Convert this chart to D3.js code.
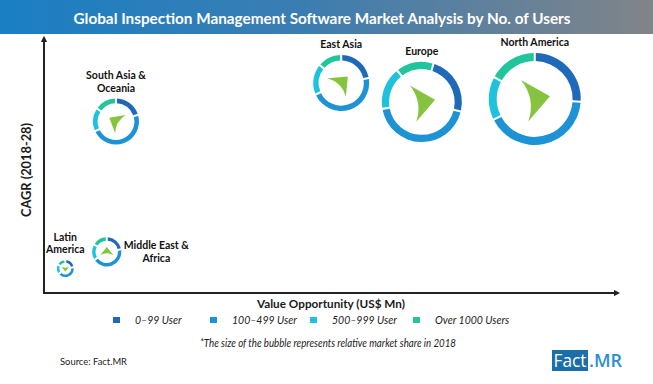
<!DOCTYPE html>
<html>
<head>
<meta charset="utf-8">
<script src="https://cdn.jsdelivr.net/npm/d3@7"></script>
<style>
  body { margin: 0; background: #fff; }
  svg { display: block; font-family: Lato, "Open Sans", sans-serif; }
</style>
</head>
<body>
<svg id="chart" width="653" height="384"></svg>
<script>
// bubble chart: each bubble is a ring of user-size shares
var regions = ["North America", "Europe", "East Asia", "South Asia & Oceania", "Middle East & Africa", "Latin America"];
var labelLines = [["North America"], ["Europe"], ["East Asia"], ["South Asia &", "Oceania"], ["Middle East &", "Africa"], ["Latin", "America"]];
var valueOpportunity = [85.2, 65.6, 51.6, 12.5, 10.9, 3.7]; // relative units, no ticks shown
var cagr = [75.5, 74.3, 81.7, 66.7, 16.0, 9.5];
var marketShare = [30, 22.7, 11.1, 7.5, 3.0, 1.0];

var userGroups = ["0–99 User", "100–499 User", "500–999 User", "Over 1000 Users"];
var shareUnder100 = [26, 24, 22, 20, 22, 22];
var share100to499 = [42, 44, 47, 49, 45, 44];
var share500to999 = [15, 17, 17.5, 16, 17, 18];
var shareOver1000 = [17, 15, 13.5, 15, 16, 16];
var trendHeading = [80, 80, 45, 300, 0, 180]; // arrow direction, degrees clockwise from up

var groupColors = ["#1f6ab8", "#1d93d6", "#1fc2dc", "#20c59c"];
var arrowColor = "#86c440";
var ringStart = { "Europe": 17 }; // degrees
var labelSide = { "Middle East & Africa": "right" };

var svg = d3.select("#chart");

// ---- title band
var grad = svg.append("defs").append("linearGradient").attr("id", "band");
grad.append("stop").attr("offset", "0%").attr("stop-color", "#1a7fc4");
grad.append("stop").attr("offset", "45%").attr("stop-color", "#3a7db2");
grad.append("stop").attr("offset", "100%").attr("stop-color", "#818488");

svg.append("rect").attr("x", 0).attr("y", 0).attr("width", 653).attr("height", 34).attr("fill", "url(#band)");
svg.append("text")
    .attr("x", 322).attr("y", 23.5)
    .attr("text-anchor", "middle")
    .attr("fill", "#fff").attr("font-weight", "bold").attr("font-size", 16)
    .attr("textLength", 497).attr("lengthAdjust", "spacingAndGlyphs")
    .text("Global Inspection Management Software Market Analysis by No. of Users");

// ---- scales
var x = d3.scaleLinear().domain([0, 100]).range([44, 620]);
var y = d3.scaleLinear().domain([0, 100]).range([293, 36]);
var r = d3.scaleSqrt().domain([0, 30]).range([0, 46]);

// ---- axes (no ticks, just arrows)
var defs = svg.select("defs");
defs.append("marker")
    .attr("id", "head").attr("viewBox", "0 0 10 10")
    .attr("refX", 5).attr("refY", 5)
    .attr("markerWidth", 3.2).attr("markerHeight", 3.2)
    .attr("orient", "auto")
  .append("path").attr("d", "M0,0 L10,5 L0,10 Z").attr("fill", "#222");

svg.append("line")
    .attr("x1", x(0)).attr("y1", y(0)).attr("x2", x(100) - 3).attr("y2", y(0))
    .attr("stroke", "#222").attr("stroke-width", 2).attr("marker-end", "url(#head)");
svg.append("line")
    .attr("x1", x(0)).attr("y1", y(0) + 1).attr("x2", x(0)).attr("y2", y(100) + 3)
    .attr("stroke", "#222").attr("stroke-width", 2).attr("marker-end", "url(#head)");

svg.append("text")
    .attr("transform", "translate(31,170) rotate(-90)")
    .attr("text-anchor", "middle")
    .attr("font-weight", "bold").attr("font-size", 12.5).attr("fill", "#1a1a1a")
    .attr("textLength", 94).attr("lengthAdjust", "spacingAndGlyphs")
    .text("CAGR (2018-28)");

svg.append("text")
    .attr("x", 331).attr("y", 308)
    .attr("text-anchor", "middle")
    .attr("font-weight", "bold").attr("font-size", 12).attr("fill", "#1a1a1a")
    .attr("textLength", 148).attr("lengthAdjust", "spacingAndGlyphs")
    .text("Value Opportunity (US$ Mn)");

// ---- bubbles
var rows = regions.map(function(name, i) {
    return {
        name: name,
        lines: labelLines[i],
        vx: valueOpportunity[i],
        vy: cagr[i],
        share: marketShare[i],
        parts: [shareUnder100[i], share100to499[i], share500to999[i], shareOver1000[i]],
        heading: trendHeading[i]
    };
});

var bubbles = svg.append("g").selectAll("g.bubble")
    .data(rows).join("g")
    .attr("class", "bubble")
    .attr("transform", function(d) { return "translate(" + x(d.vx) + "," + y(d.vy) + ")"; });

bubbles.each(function(d) {
    var g = d3.select(this);
    var outer = r(d.share);
    var thick = 1.2 + 0.15 * outer;
    var start = (ringStart[d.name] || 0) * Math.PI / 180;

    var pie = d3.pie().sort(null)
        .startAngle(start).endAngle(start + 2 * Math.PI)
        .padAngle(1.6 / outer);
    var arc = d3.arc().innerRadius(outer - thick).outerRadius(outer);

    g.selectAll("path.seg")
        .data(pie(d.parts)).join("path")
        .attr("class", "seg")
        .attr("d", arc)
        .attr("fill", function(p, k) { return groupColors[k]; });

    // trend arrow in the middle, concave back
    var L = 0.56 * outer, W = 0.46 * outer;
    var p = "M0," + (-0.6 * L) +
            " L" + W + "," + (0.4 * L) +
            " Q0," + (-0.05 * L) + " " + (-W) + "," + (0.4 * L) + " Z";
    g.append("path")
        .attr("d", p)
        .attr("fill", arrowColor)
        .attr("transform", "rotate(" + d.heading + ")");

    // region label
    var lbl = g.append("text")
        .attr("font-weight", "bold").attr("font-size", 10.5).attr("fill", "#111")
        .attr("text-anchor", "middle");
    if (labelSide[d.name] === "right") {
        lbl.selectAll("tspan").data(d.lines).join("tspan")
            .attr("x", outer + 35)
            .attr("y", function(s, k) { return -3 + k * 13; })
            .text(function(s) { return s; });
    } else {
        var n = d.lines.length;
        lbl.selectAll("tspan").data(d.lines).join("tspan")
            .attr("x", 0)
            .attr("y", function(s, k) { return -outer - 7 - (n - 1 - k) * 12.5; })
            .text(function(s) { return s; });
    }
});

// ---- legend
var legendX = [113, 210, 310, 413];
var legend = svg.append("g").selectAll("g")
    .data(userGroups).join("g")
    .attr("transform", function(d, i) { return "translate(" + legendX[i] + ",317)"; });
legend.append("rect")
    .attr("width", 7).attr("height", 6)
    .attr("fill", function(d, i) { return groupColors[i]; });
legend.append("text")
    .attr("x", 22).attr("y", 7)
    .attr("font-style", "italic").attr("font-size", 10.5).attr("fill", "#222")
    .text(function(d) { return d; });

// ---- footer
svg.append("text")
    .attr("x", 328).attr("y", 347)
    .attr("text-anchor", "middle")
    .attr("font-style", "italic").attr("font-size", 10.5).attr("fill", "#222")
    .attr("textLength", 256).attr("lengthAdjust", "spacingAndGlyphs")
    .text("*The size of the bubble represents relative market share in 2018");

svg.append("text")
    .attr("x", 60).attr("y", 364.5)
    .attr("font-size", 10).attr("fill", "#222")
    .attr("textLength", 67).attr("lengthAdjust", "spacingAndGlyphs")
    .text("Source: Fact.MR");

svg.append("rect").attr("x", 552).attr("y", 350).attr("width", 36).attr("height", 21).attr("fill", "#1c6ea9");
svg.append("text")
    .attr("x", 570).attr("y", 367).attr("text-anchor", "middle")
    .attr("font-family", "'Open Sans', sans-serif").attr("font-size", 18).attr("fill", "#fff")
    .attr("textLength", 33).attr("lengthAdjust", "spacingAndGlyphs")
    .text("Fact");
svg.append("text")
    .attr("x", 589).attr("y", 367)
    .attr("font-family", "'Open Sans', sans-serif").attr("font-weight", 600).attr("font-size", 18).attr("fill", "#2a8fd0")
    .attr("textLength", 33).attr("lengthAdjust", "spacingAndGlyphs")
    .text(".MR");
</script>
</body>
</html>
